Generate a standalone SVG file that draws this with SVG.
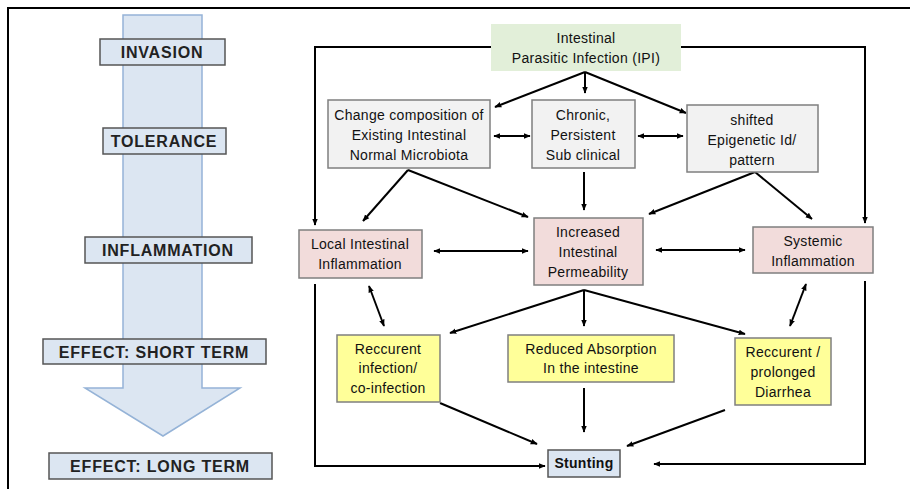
<svg xmlns="http://www.w3.org/2000/svg" width="910" height="489" viewBox="0 0 910 489">
<defs>
<marker id="ah" viewBox="0 0 10 10" refX="9" refY="5" markerWidth="7" markerHeight="7" orient="auto-start-reverse" markerUnits="userSpaceOnUse">
<path d="M0,1 L10,5 L0,9 z" fill="#000"/>
</marker>
<style>
.t{font-family:"Liberation Sans","DejaVu Sans",sans-serif;fill:#111;text-anchor:middle}
.s{font-size:14px;letter-spacing:0.3px}
.l{font-size:16px;font-weight:bold;fill:#222;letter-spacing:0.8px}
.lab{fill:#dce6f2;stroke:#555;stroke-width:1.5}
.gr{fill:#f2f2f2;stroke:#7f7f7f;stroke-width:1.5}
.pk{fill:#f2dcdb;stroke:#7f7f7f;stroke-width:1.5}
.yl{fill:#ffff99;stroke:#7f7f7f;stroke-width:1.5}
.c{fill:none;stroke:#000;stroke-width:2}
.a{marker-end:url(#ah)}
.d{marker-start:url(#ah);marker-end:url(#ah)}
</style>
</defs>
<rect width="910" height="489" fill="#fff"/>
<path d="M8,489 V8 H910" fill="none" stroke="#000" stroke-width="2"/>
<g id="timeline">
<path d="M123,15 H202 V388 H240 L163,436 L85,388 H123 Z" fill="#dce6f2" stroke="#95b3d7" stroke-width="1.5"/>
</g>
<g id="invasion"><rect class="lab" x="100" y="39" width="125" height="26"/><text class="t l" x="162" y="58">INVASION</text></g>
<g id="tolerance"><rect class="lab" x="103" y="128" width="123" height="26"/><text class="t l" x="164" y="147">TOLERANCE</text></g>
<g id="inflammation"><rect class="lab" x="85" y="237" width="167" height="26"/><text class="t l" x="168" y="256">INFLAMMATION</text></g>
<g id="effect-short"><rect class="lab" x="43" y="339" width="223" height="25"/><text class="t l" x="154" y="358">EFFECT: SHORT TERM</text></g>
<g id="effect-long"><rect class="lab" x="49" y="453" width="223" height="26"/><text class="t l" x="160" y="472">EFFECT: LONG TERM</text></g>

<g id="connectors">
<path class="c a" d="M492,47 H315 V225"/>
<path class="c a" d="M681,47 H865 V223"/>
<path class="c a" d="M585,72 L495,107"/>
<path class="c a" d="M585,72 V93"/>
<path class="c a" d="M585,72 L686,113"/>
<path class="c d" d="M494,136 H530"/>
<path class="c d" d="M638,136 H683"/>
<path class="c a" d="M408,170 L363,221"/>
<path class="c a" d="M408,170 L528,217"/>
<path class="c a" d="M584,172 V210"/>
<path class="c a" d="M755,172 L649,214"/>
<path class="c a" d="M755,172 L812,219"/>
<path class="c d" d="M434,251 H528"/>
<path class="c d" d="M656,250 H745"/>
<path class="c d" d="M369,286 L384,326"/>
<path class="c d" d="M806,284 L790,326"/>
<path class="c a" d="M584,290 L450,333"/>
<path class="c a" d="M584,290 V326"/>
<path class="c a" d="M584,290 L745,334"/>
<path class="c a" d="M584,388 V432"/>
<path class="c a" d="M440,403 L537,444"/>
<path class="c a" d="M725,410 L627,446"/>
<path class="c a" d="M315,284 V466 H545"/>
<path class="c a" d="M865,281 V464 H654"/>
</g>

<g id="ipi"><rect x="491" y="24" width="190" height="47" fill="#e2efd9"/><text class="t s" x="586" y="43">Intestinal</text><text class="t s" x="586" y="63">Parasitic Infection (IPI)</text></g>
<g id="microbiota"><rect class="gr" x="328" y="100" width="162" height="68"/><text class="t s" x="409" y="120">Change composition of</text><text class="t s" x="409" y="140">Existing Intestinal</text><text class="t s" x="409" y="160">Normal Microbiota</text></g>
<g id="chronic"><rect class="gr" x="532" y="100" width="103" height="68"/><text class="t s" x="583" y="120">Chronic,</text><text class="t s" x="583" y="140">Persistent</text><text class="t s" x="583" y="160">Sub clinical</text></g>
<g id="epigenetic"><rect class="gr" x="687" y="105" width="131" height="67"/><text class="t s" x="752" y="125">shifted</text><text class="t s" x="752" y="145">Epigenetic Id/</text><text class="t s" x="752" y="165">pattern</text></g>
<g id="local"><rect class="pk" x="299" y="230" width="123" height="48"/><text class="t s" x="360" y="249">Local Intestinal</text><text class="t s" x="360" y="269">Inflammation</text></g>
<g id="permeability"><rect class="pk" x="534" y="218" width="109" height="67"/><text class="t s" x="588" y="237">Increased</text><text class="t s" x="588" y="257">Intestinal</text><text class="t s" x="588" y="277">Permeability</text></g>
<g id="systemic"><rect class="pk" x="753" y="227" width="120" height="46"/><text class="t s" x="813" y="246">Systemic</text><text class="t s" x="813" y="266">Inflammation</text></g>
<g id="recurrent-infection"><rect class="yl" x="337" y="335" width="103" height="67"/><text class="t s" x="388" y="354">Reccurent</text><text class="t s" x="388" y="373">infection/</text><text class="t s" x="388" y="393">co-infection</text></g>
<g id="absorption"><rect class="yl" x="508" y="335" width="166" height="47"/><text class="t s" x="591" y="354">Reduced Absorption</text><text class="t s" x="591" y="373">In the intestine</text></g>
<g id="diarrhea"><rect class="yl" x="735" y="338" width="96" height="67"/><text class="t s" x="783" y="357">Reccurent /</text><text class="t s" x="783" y="377">prolonged</text><text class="t s" x="783" y="397">Diarrhea</text></g>
<g id="stunting"><rect class="lab" x="548" y="450" width="72" height="27" stroke="#7f7f7f"/><text class="t s" x="584" y="468" font-weight="bold">Stunting</text></g>
</svg>
